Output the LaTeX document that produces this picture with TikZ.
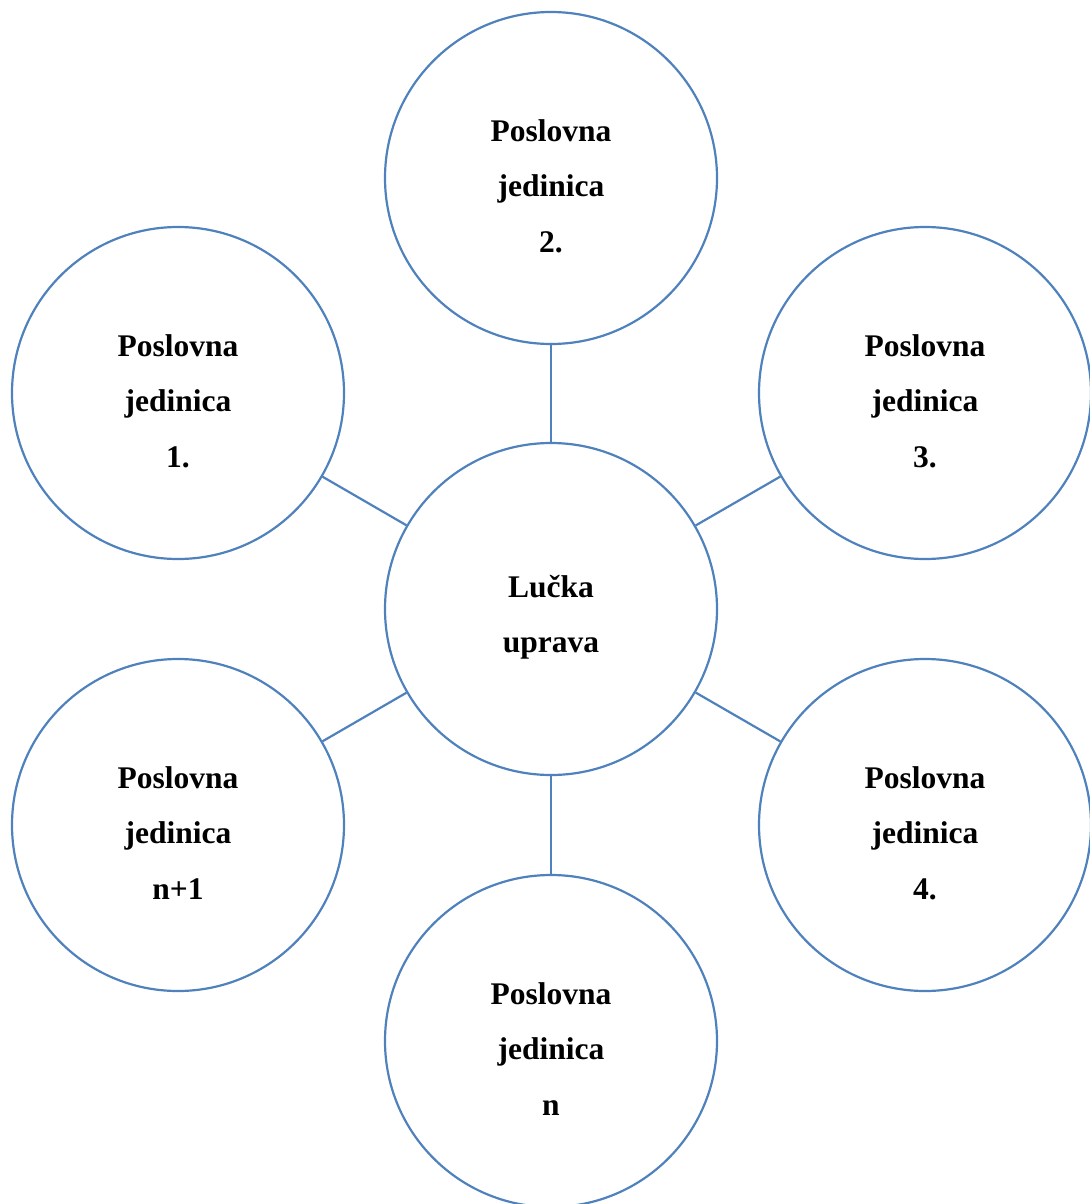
\documentclass[tikz,border=0pt]{standalone}
\usepackage{fontspec}
\setmainfont{Liberation Serif}
\definecolor{cblue}{HTML}{4F81BD}
\begin{document}
\begin{tikzpicture}[x=1pt,y=-1pt,
  unit/.style={circle,draw=cblue,line width=2.2pt,minimum size=332pt,inner sep=0pt},
  lbl/.style={align=center,font=\fontsize{31.5}{55.5}\selectfont\bfseries,inner sep=0pt},
  link/.style={draw=cblue,line width=2.2pt}]
\useasboundingbox (0,0) rectangle (1089,1204);
\node[unit] (c) at (551,609) {};
\node[unit] (u2) at (551,178) {};
\node[unit] (u1) at (178,393) {};
\node[unit] (u3) at (925,393) {};
\node[unit] (u4) at (925,825) {};
\node[unit] (un1) at (178,825) {};
\node[unit] (un) at (551,1041) {};
\node[lbl] (tc) at (551,617) {Lučka\\uprava};
\node[lbl] (t2) at (551,186) {Poslovna\\jedinica\\2.};
\node[lbl] (t1) at (178,401) {Poslovna\\jedinica\\1.};
\node[lbl] (t3) at (925,401) {Poslovna\\jedinica\\3.};
\node[lbl] (t4) at (925,833) {Poslovna\\jedinica\\4.};
\node[lbl] (tn1) at (178,833) {Poslovna\\jedinica\\n+1};
\node[lbl] (tn) at (551,1049) {Poslovna\\jedinica\\n};
\foreach \u in {u1,u2,u3,u4,un1,un} \draw[link] (c) -- (\u);
\end{tikzpicture}
\end{document}
